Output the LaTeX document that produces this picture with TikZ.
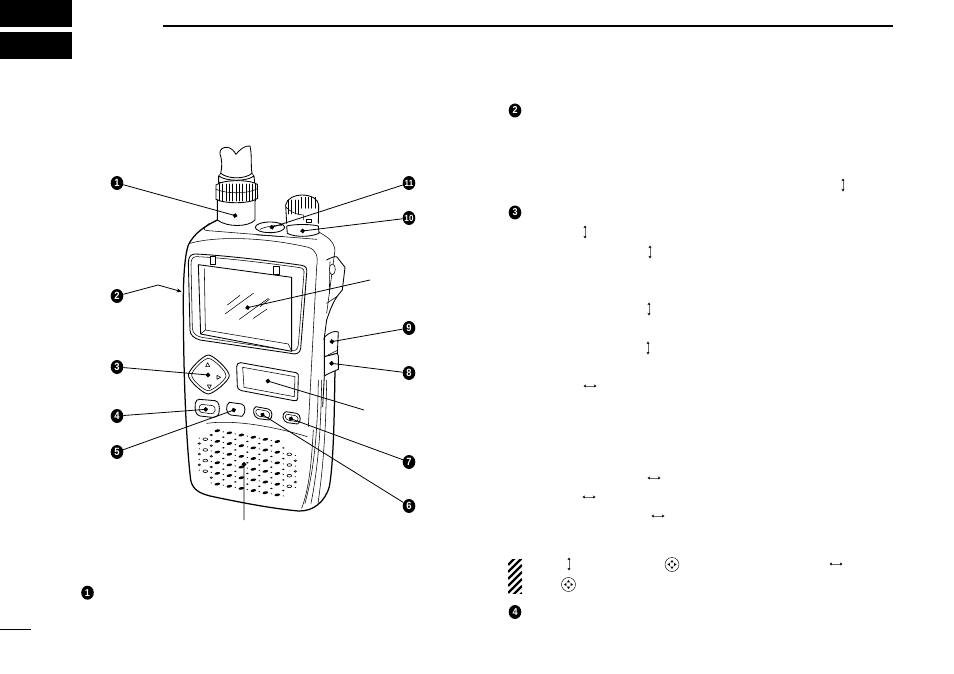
\documentclass[tikz,border=0pt]{standalone}
\usepackage{fontspec}
\setmainfont{Liberation Sans}
\usetikzlibrary{arrows.meta,calc}
\tikzset{
 bullet/.style={circle,fill=black,text=white,inner sep=0pt,minimum size=14pt,xscale=.9,transform shape,font=\bfseries\fontsize{10.5}{10.5}\selectfont},
 bulletsm/.style={bullet,font=\bfseries\fontsize{9}{9}\selectfont},
 tbullet/.style={bullet,xscale=1,font=\bfseries\fontsize{10}{10}\selectfont},
 leader/.style={line width=0.8pt,-{Circle[length=4.6pt,width=4.6pt]},shorten >=-2pt},
 plainleader/.style={line width=0.8pt},
 vol/.style={line width=0.85pt,line join=round,line cap=round},
 thn/.style={line width=0.55pt,line join=round,line cap=round},
 updown/.style={line width=0.7pt,draw=black!60,{Stealth[length=2.6pt,width=3pt,black]}-{Stealth[length=2.6pt,width=3pt,black]}},
 rule/.style={line width=2pt},
 dicon/.pic={\draw[line width=0.45pt] (0,0) circle (7);
   \fill (0,-4.6)--(-1.6,-2.2)--(1.6,-2.2)--cycle;
   \fill (0,4.6)--(-1.6,2.2)--(1.6,2.2)--cycle;
   \fill (-4.6,0)--(-2.2,-1.6)--(-2.2,1.6)--cycle;
   \fill (4.6,0)--(2.2,-1.6)--(2.2,1.6)--cycle;}
}
\begin{document}
\begin{tikzpicture}[x=1pt,y=-1pt]
\useasboundingbox (0,0) rectangle (954,674);
% page furniture
\fill (0,0) rectangle (72,27);
\fill (0,32) rectangle (72,59);
\draw[rule] (163,26.5) -- (893,26.5);
\draw[line width=1pt] (0,629.5) -- (31,629.5);
% radio
\begin{scope}[shift={(170,140)},x=.33333pt,y=-.33333pt]
% antenna
\draw[vol,fill=white] (152,100) .. controls (158,80) and (155,55) .. (150,42) .. controls (148,28) and (158,22) .. (170,22) .. controls (182,22) and (192,32) .. (198,43) .. controls (208,30) and (225,15) .. (240,18)
  .. controls (246,40) and (242,80) .. (246,100) .. controls (225,118) and (175,118) .. (152,100) -- cycle;
\draw[vol,fill=white] (146,108) .. controls (170,125) and (230,125) .. (252,108) -- (254,128) -- (146,128) -- cycle;
\draw[thn] (152,100) -- (146,108);\draw[thn] (246,100) -- (252,108);
\draw[vol,fill=white] (138,135) .. controls (160,118) and (240,118) .. (262,133) -- (263,175) .. controls (240,192) and (165,192) .. (138,178) -- cycle;
\foreach \x in {148,158,168,178,188,198,208,218,228,238,248,256} \draw[thn] (\x,132) -- (\x,183);
\draw[thn] (138,148) .. controls (170,162) and (235,162) .. (262,146);
\draw[vol] (142,180) -- (142,240) .. controls (170,262) and (235,262) .. (255,240) -- (255,180);
% body outer
\draw[vol,line width=1.25pt] (142,240) .. controls (105,258) and (72,280) .. (55,315) .. controls (46,340) and (40,400) .. (40,480)
  .. controls (40,700) and (48,900) .. (62,1020) .. controls (68,1050) and (90,1060) .. (120,1068)
  .. controls (200,1085) and (300,1105) .. (385,1113) .. controls (430,1115) and (465,1085) .. (478,1040)
  .. controls (492,960) and (493,800) .. (495,690);
% top ledges
\draw[thn] (118,250) .. controls (100,265) and (95,270) .. (115,272) -- (440,298);
\draw[thn] (60,310) .. controls (150,285) and (300,295) .. (415,322) .. controls (440,330) and (445,350) .. (440,380) -- (415,860);
\draw[thn] (445,275) .. controls (470,290) and (490,300) .. (495,330) -- (470,520);
% right clip
\draw[vol] (470,360) .. controls (490,350) and (500,345) .. (504,355) -- (525,382) -- (517,450) .. controls (500,470) and (490,480) .. (470,540) -- (462,600);
\draw[thn] (480,365) -- (478,460);
\draw[thn,fill=white] (487,388) ellipse (9 and 16);
\draw[thn] (470,490) -- (500,470);
% buttons 9 8
\draw[vol,fill=white] (463,592) .. controls (480,575) and (495,572) .. (505,576) -- (502,640) -- (463,650) -- cycle;
\draw[vol,fill=white] (463,650) -- (502,640) -- (505,648) -- (505,688) .. controls (490,695) and (475,700) .. (463,708) -- cycle;
\draw[thn] (474,645) -- (504,630);
\draw[vol] (463,708) -- (458,800);
\foreach \x/\d in {445/0,455/8,470/14} \draw[thn] (\x,720) .. controls (\x-2,860) and (\x-10,980) .. (\x-40+\d,1090);
\draw[thn] (430,870) .. controls (425,950) and (420,1040) .. (395,1105);
% knob
\draw[vol,fill=white] (350,250) -- (347,195) .. controls (350,175) and (375,165) .. (395,165) .. controls (425,165) and (445,178) .. (446,195) -- (445,250);
\foreach \x in {355,365,375,385} \draw[thn] (\x,180) -- (\x,222);
\foreach \x in {395,405,415,425,435} \draw[thn] (\x,172) -- (\x,205);
\draw[thn] (347,200) .. controls (360,215) and (380,225) .. (400,225) -- (400,240);
\draw[thn] (408,238) -- (425,238) -- (425,246) -- (408,246) -- cycle;
\draw[vol,fill=white] (350,258) .. controls (375,252) and (420,252) .. (445,258) -- (447,280) .. controls (420,292) and (375,292) .. (352,280) -- cycle;
% button 11
\draw[vol,fill=white] (300,262) ellipse (44 and 16);
\draw[thn] (270,268) .. controls (290,258) and (320,256) .. (336,256);
\draw[thn] (262,285) -- (338,290);
% bezel
\draw[vol] (75,342) .. controls (150,345) and (300,362) .. (395,376) .. controls (408,378) and (412,385) .. (410,400)
  -- (392,625) .. controls (390,640) and (378,645) .. (362,640) -- (90,600) .. controls (72,595) and (60,585) .. (60,570) -- (55,370) .. controls (55,350) and (62,343) .. (75,342) -- cycle;
\draw[thn] (78,350) .. controls (150,352) and (300,370) .. (390,383) .. controls (400,385) and (403,390) .. (402,400)
  -- (385,615) .. controls (383,630) and (375,634) .. (360,632) -- (95,592) .. controls (78,588) and (68,580) .. (67,565) -- (63,372) .. controls (63,358) and (68,351) .. (78,350) -- cycle;
% screen
\draw[vol,fill=white] (85,374) -- (365,412) -- (365,634) -- (92,582) -- cycle;
\draw[thn] (103,386) -- (106,570);
\draw[thn] (92,582) -- (106,570) -- (355,612) -- (365,634);
\draw[thn,fill=white] (121,350) rectangle (135,374);
\draw[thn,fill=white] (310,378) rectangle (328,402);
\foreach \a/\b/\c/\d in {172/495/210/466,165/522/250/460,208/538/295/475,250/535/290/508,270/500/298/478} \draw[thn] (\a,\b) -- (\c,\d);
% d-pad
\draw[vol] (115,645) .. controls (130,645) and (178,690) .. (178,707) .. controls (178,722) and (130,762) .. (115,762) .. controls (100,762) and (55,722) .. (55,705) .. controls (55,690) and (100,645) .. (115,645) -- cycle;
\draw[thn] (115,655) .. controls (128,655) and (168,692) .. (168,707) .. controls (168,720) and (128,752) .. (115,752) .. controls (102,752) and (65,720) .. (65,705) .. controls (65,692) and (102,655) .. (115,655) -- cycle;
\draw[thn] (113,668) -- (107,680) -- (119,680) -- cycle;
\draw[thn] (152,712) -- (141,706) -- (141,718) -- cycle;
\draw[thn] (118,746) -- (112,735) -- (124,735) -- cycle;
% panel
\draw[vol] (212,668) -- (378,698) .. controls (385,700) and (386,704) .. (385,710) -- (383,775) .. controls (383,782) and (378,783) .. (372,782) -- (215,752) .. controls (205,748) and (202,745) .. (202,738) -- (200,680) .. controls (200,672) and (205,668) .. (212,668) -- cycle;
\draw[thn] (218,682) -- (375,710) -- (373,770) -- (222,742) -- cycle;
% keys
\draw[vol] (88,778) -- (135,782) .. controls (147,784) and (150,800) .. (147,818) .. controls (145,830) and (135,832) .. (125,832) -- (90,828) .. controls (78,826) and (73,810) .. (76,790) .. controls (77,782) and (82,778) .. (88,778) -- cycle;
\draw[thn] (95,793) -- (128,797) .. controls (135,798) and (137,805) .. (135,813) .. controls (133,820) and (128,822) .. (120,821) -- (93,817) .. controls (85,815) and (85,795) .. (95,793) -- cycle;
\draw[vol] (178,787) -- (215,792) .. controls (228,795) and (228,820) .. (216,829) -- (182,825) .. controls (168,822) and (165,795) .. (178,787) -- cycle;
\draw[vol] (258,800) -- (295,807) .. controls (308,810) and (310,835) .. (297,840) -- (265,836) .. controls (250,832) and (245,805) .. (258,800) -- cycle;
\draw[thn] (262,808) -- (290,813) .. controls (300,816) and (302,828) .. (295,833) -- (268,829) .. controls (258,826) and (253,812) .. (262,808) -- cycle;
\draw[vol] (348,815) -- (380,820) .. controls (393,823) and (395,848) .. (382,852) -- (352,848) .. controls (338,845) and (333,820) .. (348,815) -- cycle;
\draw[thn] (352,823) -- (376,827) .. controls (385,830) and (387,840) .. (380,845) -- (356,841) .. controls (345,838) and (342,825) .. (352,823) -- cycle;
% arc over speaker
\draw[thn] (110,850) .. controls (200,838) and (320,862) .. (412,890);
% speaker holes: even-even cells large, odd-odd cells small, odd-even cells tiny
\foreach \i in {0,...,18} \foreach \j in {0,...,14} {
  \pgfmathtruncatemacro\ci{mod(\i,2)}
  \pgfmathtruncatemacro\cj{mod(\j,2)}
  \pgfmathsetmacro\xx{70+18*\i}
  \pgfmathsetmacro\yy{853+16*\j+0.18*(\xx-213)}
  \pgfmathsetmacro\YY{\yy-0.18*(\xx-235)}
  \pgfmathtruncatemacro\ins{(abs(\xx-235)/158)^3+(abs(\YY-972)/92)^3<1 ? 1:0}
  \pgfmathtruncatemacro\ctr{abs(\xx-235)<106 ? 1:0}
  \ifnum\ins=1
   \ifnum\ctr=1
     \ifnum\ci=0
       \ifnum\cj=0 \fill[rotate around={12:(\xx,\yy)}] (\xx,\yy) ellipse (8.5 and 4);\fi
     \else
       \ifnum\cj=1 \fill (\xx,\yy) ellipse (4 and 2.2);
       \else \fill (\xx,\yy) ellipse (2.4 and 1.5);\fi
     \fi
   \else
     \ifnum\ci=0
       \ifnum\cj=0 \draw[line width=.6pt] (\xx,\yy) ellipse (7 and 4);\fi
     \else
       \ifnum\cj=1 \draw[line width=.6pt] (\xx,\yy) ellipse (3.5 and 2.5);
       \else \fill (\xx,\yy) ellipse (2.2 and 1.5);\fi
     \fi
   \fi
  \fi
}
\coordinate (e1) at (196,227);
\coordinate (e11) at (305,262);
\coordinate (e10) at (397,273);
\coordinate (ed) at (232,503);
\coordinate (e9) at (485,605);
\coordinate (e8) at (484,670);
\coordinate (e3) at (115,705);
\coordinate (ep) at (293,723);
\coordinate (e4) at (108,808);
\coordinate (e5) at (192,810);
\coordinate (e6) at (277,824);
\coordinate (e7) at (362,836);
\coordinate (es) at (222,972);
\coordinate (a2) at (35,455);
\end{scope}
% diagram bullets
\node[bullet] (b1) at (117,183) {1};
\node[bullet] (b2) at (117,296) {2};
\node[bullet] (b3) at (117,367) {3};
\node[bullet] (b4) at (117,416) {4};
\node[bullet] (b5) at (117,452) {5};
\node[bullet] (b6) at (409,506) {6};
\node[bullet] (b7) at (409,462) {7};
\node[bullet] (b8) at (409,373) {8};
\node[bullet] (b9) at (409,328) {9};
\node[bulletsm] (b10) at (409,218) {10};
\node[bulletsm] (b11) at (409,183) {11};
\coordinate (fd) at (370,280);
\coordinate (fp) at (364,410);
\coordinate (fs) at (244,520);
\coordinate (k2) at (158,285);
% leaders
\foreach \a/\b in {b1/e1,b3/e3,b4/e4,b5/e5,b6/e6,b7/e7,b8/e8,b9/e9,b10/e10,b11/e11,fd/ed,fp/ep,fs/es}
  \draw[leader] (\a) -- (\b);
\draw[plainleader,-{Stealth[length=5pt,width=4pt]}] (b2) -- (k2) -- (a2);
% text bullets
\node[tbullet] (t1) at (87.5,592.7) {1};
\node[tbullet] (t2) at (515,110.5) {2};
\node[tbullet] (t3) at (515,212.5) {3};
\node[tbullet] (t4) at (515,612) {4};
% double arrows
\foreach \x/\y in {843/185,585/232,650/252,649/309,648/348,569/564}
  \draw[updown] (\x,\y-6.5) -- (\x,\y+6.5);
\foreach \x/\y in {590/386,654/478,589/497,658/516,836/564}
  \draw[updown] (\x-6.5,\y) -- (\x+6.5,\y);
\pic at (672,564.5) {dicon};
\pic at (568.5,584.5) {dicon};
% hatched note mark
\begin{scope}
\clip (508,559) rectangle (522,593);
\foreach \k in {-2,...,7} \draw[line width=2.3pt] (508,559+\k*7+6) -- (522,559+\k*7-8);
\end{scope}
\end{tikzpicture}
\end{document}
